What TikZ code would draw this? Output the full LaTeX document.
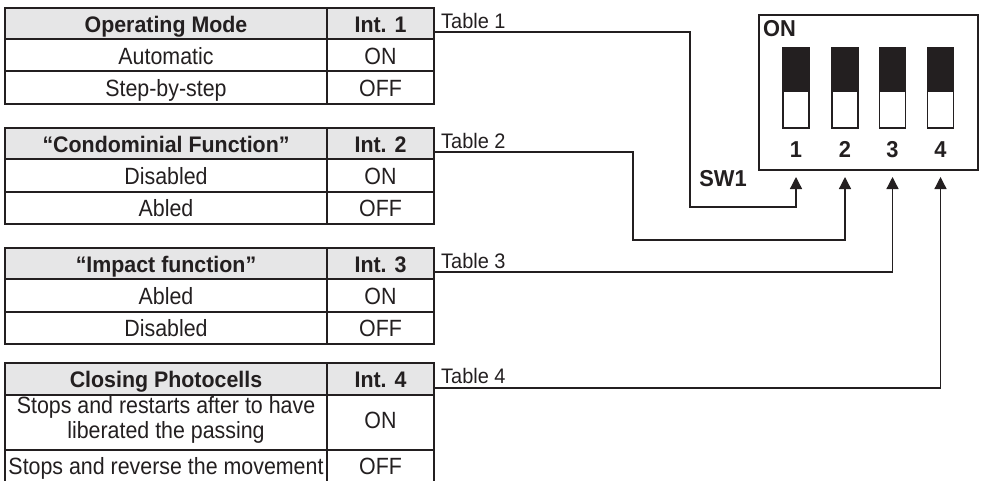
\documentclass[tikz,border=0pt]{standalone}
\usepackage{fontspec}
\setmainfont{Liberation Sans}
\newfontfamily\bodyfont{Liberation Sans}[FakeStretch=0.91]
\newfontfamily\headfont{Liberation Sans}[FakeStretch=0.95]
\usetikzlibrary{arrows.meta}
\definecolor{ink}{HTML}{231F20}
\definecolor{hdrgray}{HTML}{E6E6E7}
\tikzset{
  tabline/.style={draw=ink, line width=2pt},
  hdrfill/.style={fill=hdrgray},
  hd/.style={anchor=base, inner sep=0pt, text=ink, font=\headfont\fontsize{22.5}{25}\selectfont\bfseries},
  tx/.style={anchor=base, inner sep=0pt, text=ink, font=\bodyfont\fontsize{23.5}{25}\selectfont},
  lbl/.style={anchor=base west, inner sep=0pt, text=ink, font=\headfont\fontsize{21}{23}\selectfont},
  swtxt/.style={anchor=base, inner sep=0pt, text=ink, font=\headfont\fontsize{23}{25}\selectfont\bfseries},
  conn/.style={draw=ink, line width=1.3pt, -{Triangle[width=12pt,length=12pt]}},
  slot/.style={draw=ink, line width=1.5pt, fill=white},
}
\begin{document}
\begin{tikzpicture}[x=1pt, y=-1pt]
\useasboundingbox (0,0) rectangle (982,480);

% ---------- Table 1 : operating mode ----------
\fill[hdrfill] (5,8) rectangle (434,39);
\draw[tabline] (5,8) rectangle (434,104);
\draw[tabline] (5,39) -- (434,39) (5,71) -- (434,71) (327,8) -- (327,104);
\node[hd] (t1h) at (166,32) {Operating Mode};
\node[hd] (t1i) at (380.5,32) {Int. 1};
\node[tx] (t1a) at (166,64.5) {Automatic};
\node[tx] (t1b) at (380.5,64.5) {ON};
\node[tx] (t1c) at (166,96.5) {Step-by-step};
\node[tx] (t1d) at (380.5,96.5) {OFF};
\node[lbl] (t1l) at (441,28) {Table 1};

% ---------- Table 2 : condominial function ----------
\fill[hdrfill] (5,128) rectangle (434,159);
\draw[tabline] (5,128) rectangle (434,224);
\draw[tabline] (5,159) -- (434,159) (5,192) -- (434,192) (327,128) -- (327,224);
\node[hd] (t2h) at (166,152) {“Condominial Function”};
\node[hd] (t2i) at (380.5,152) {Int. 2};
\node[tx] (t2a) at (166,184.5) {Disabled};
\node[tx] (t2b) at (380.5,184.5) {ON};
\node[tx] (t2c) at (166,216.5) {Abled};
\node[tx] (t2d) at (380.5,216.5) {OFF};
\node[lbl] (t2l) at (441,148) {Table 2};

% ---------- Table 3 : impact function ----------
\fill[hdrfill] (5,248) rectangle (434,279);
\draw[tabline] (5,248) rectangle (434,344);
\draw[tabline] (5,279) -- (434,279) (5,312) -- (434,312) (327,248) -- (327,344);
\node[hd] (t3h) at (166,272) {“Impact function”};
\node[hd] (t3i) at (380.5,272) {Int. 3};
\node[tx] (t3a) at (166,304.5) {Abled};
\node[tx] (t3b) at (380.5,304.5) {ON};
\node[tx] (t3c) at (166,336.5) {Disabled};
\node[tx] (t3d) at (380.5,336.5) {OFF};
\node[lbl] (t3l) at (441,268) {Table 3};

% ---------- Table 4 : closing photocells (runs past the lower edge) ----------
\fill[hdrfill] (5,363) rectangle (434,395);
\draw[tabline] (5,490) -- (5,363) -- (434,363) -- (434,490);
\draw[tabline] (5,395) -- (434,395) (5,450) -- (434,450) (327,363) -- (327,490);
\node[hd] (t4h) at (166,387) {Closing Photocells};
\node[hd] (t4i) at (380.5,387) {Int. 4};
\node[tx] (t4a) at (166,413) {Stops and restarts after to have};
\node[tx] (t4a2) at (166,438) {liberated the passing};
\node[tx] (t4b) at (380.5,428) {ON};
\node[tx] (t4c) at (166,474) {Stops and reverse the movement};
\node[tx] (t4d) at (380.5,474) {OFF};
\node[lbl] (t4l) at (441,383) {Table 4};

% ---------- DIP switch SW1 ----------
\draw[tabline] (759,15) rectangle (978,170);
\node[swtxt, anchor=base west] (on) at (763,36) {ON};
\foreach \i/\c in {1/796, 2/845, 3/892.5, 4/940.5} {
  \draw[slot] (\c-13,48) rectangle (\c+13,128);
  \fill[ink] (\c-13,48) rectangle (\c+13,92);
  \draw[ink, line width=1.5pt] (\c-13,48) rectangle (\c+13,128);
  \node[swtxt] (n\i) at (\c,157) {\i};
  \coordinate (s\i) at (\c,177);
}
\node[swtxt] (sw) at (723,186) {SW1};

% ---------- connectors from the tables to the switch levers ----------
\coordinate (a1) at (434,32);
\coordinate (a2) at (434,152);
\coordinate (a3) at (434,272);
\coordinate (a4) at (434,388);
\coordinate (b1) at (690,207);
\coordinate (b2) at (633,240);
\draw[conn] (a1) -| (b1) -| (s1);
\draw[conn] (a2) -| (b2) -| (s2);
\draw[conn] (a3) -| (s3);
\draw[conn] (a4) -| (s4);
\end{tikzpicture}
\end{document}
